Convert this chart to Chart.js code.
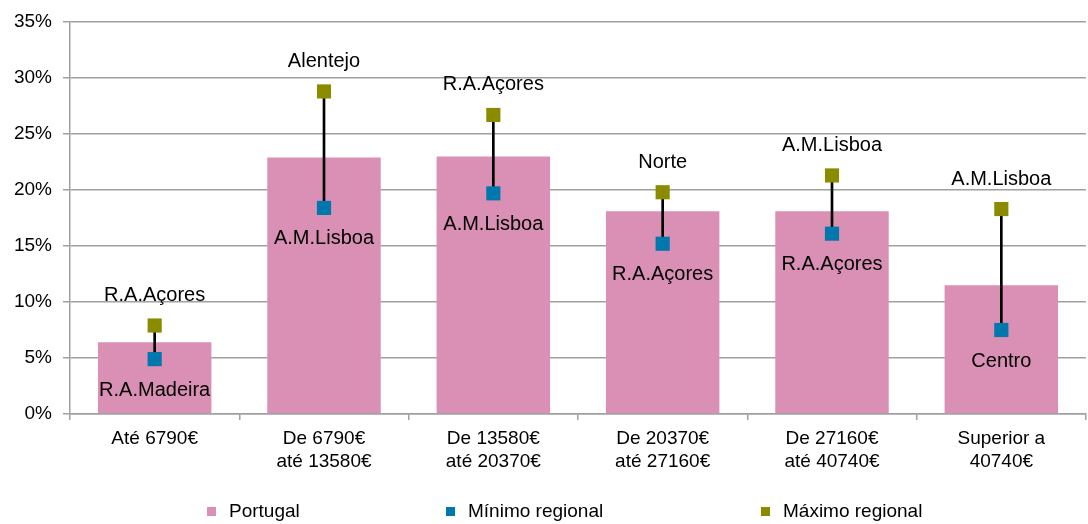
<!DOCTYPE html>
<html>
<head>
<meta charset="utf-8">
<script src="https://cdn.jsdelivr.net/npm/chart.js@4"></script>
<style>
  body { margin: 0; background: #fff; font-family: "Liberation Sans", Arial, sans-serif; }
  #wrap { position: relative; width: 1088px; height: 524px; }
  #legend { position: absolute; left: 0; top: 499px; width: 1088px; height: 24px; font-size: 19px; color: #000; }
  #legend .item { position: absolute; top: 0; line-height: 24px; white-space: nowrap; }
  #legend .box { display: inline-block; width: 9px; height: 9px; margin-right: 13px; vertical-align: 1px; }
</style>
</head>
<body>
<div id="wrap">
  <canvas id="chart"></canvas>
  <div id="legend"></div>
</div>
<script>
const categories = [
  'Até 6790€',
  ['De 6790€', 'até 13580€'],
  ['De 13580€', 'até 20370€'],
  ['De 20370€', 'até 27160€'],
  ['De 27160€', 'até 40740€'],
  ['Superior a', '40740€']
];
const portugal = [6.4, 22.9, 23.0, 18.1, 18.1, 11.5];
const minRegional = [4.9, 18.4, 19.7, 15.2, 16.1, 7.5];
const maxRegional = [7.9, 28.8, 26.7, 19.8, 21.3, 18.3];
const minRegion = ['R.A.Madeira', 'A.M.Lisboa', 'A.M.Lisboa', 'R.A.Açores', 'R.A.Açores', 'Centro'];
const maxRegion = ['R.A.Açores', 'Alentejo', 'R.A.Açores', 'Norte', 'A.M.Lisboa', 'A.M.Lisboa'];
const yTicks = [0, 5, 10, 15, 20, 25, 30, 35];

const PINK = '#da8fb4';
const BLUE = '#0078ae';
const OLIVE = '#8b8b00';
const GRID = '#a0a0a0';
const FONT = '"Liberation Sans", Arial, sans-serif';

// writes the region names above the max and under the min markers
const regionLabels = {
  id: 'regionLabels',
  afterDatasetsDraw(chart) {
    const ctx = chart.ctx;
    ctx.save();
    ctx.font = '20px ' + FONT;
    ctx.fillStyle = '#000';
    ctx.textAlign = 'center';
    ctx.textBaseline = 'middle';
    chart.getDatasetMeta(1).data.forEach((pt, i) => {
      ctx.fillText(minRegion[i], pt.x, pt.y + 31);
    });
    chart.getDatasetMeta(2).data.forEach((pt, i) => {
      ctx.fillText(maxRegion[i], pt.x, pt.y - 30);
    });
    ctx.restore();
  }
};

const chart = new Chart(document.getElementById('chart'), {
  type: 'bar',
  data: {
    labels: categories,
    datasets: [
      {
        label: 'Portugal',
        data: portugal,
        backgroundColor: PINK,
        grouped: false,
        categoryPercentage: 1,
        barPercentage: 0.67,
        order: 4
      },
      {
        type: 'line',
        label: 'Mínimo regional',
        data: minRegional,
        showLine: false,
        pointStyle: 'rect',
        pointRadius: 10,
        pointHoverRadius: 10,
        pointBorderWidth: 0,
        backgroundColor: BLUE,
        borderColor: BLUE,
        order: 1
      },
      {
        type: 'line',
        label: 'Máximo regional',
        data: maxRegional,
        showLine: false,
        pointStyle: 'rect',
        pointRadius: 10,
        pointHoverRadius: 10,
        pointBorderWidth: 0,
        backgroundColor: OLIVE,
        borderColor: OLIVE,
        order: 2
      },
      {
        label: '',
        data: minRegional.map((v, i) => [v, maxRegional[i]]),
        backgroundColor: '#000',
        grouped: false,
        barThickness: 2,
        order: 3
      }
    ]
  },
  options: {
    responsive: true,
    maintainAspectRatio: false,
    animation: false,
    layout: { autoPadding: false, padding: { top: 22, right: 2, bottom: 0, left: 0 } },
    plugins: {
      legend: { display: false },
      tooltip: { enabled: false }
    },
    scales: {
      x: {
        afterFit: s => {
          s.height = 110;
          s.paddingLeft = 0;
          s.paddingRight = 0;
        },
        grid: {
          offset: true,
          drawOnChartArea: false,
          drawTicks: true,
          tickLength: 6,
          color: GRID,
          lineWidth: 1.5
        },
        border: { color: GRID, width: 1.5 },
        ticks: {
          color: '#000',
          padding: 7,
          maxRotation: 0,
          autoSkip: false,
          font: { family: FONT, size: 19, lineHeight: 1.22 }
        }
      },
      y: {
        min: 0,
        max: 35,
        afterFit: s => {
          s.width = 70;
          s.paddingTop = 0;
          s.paddingBottom = 0;
        },
        afterBuildTicks: s => { s.ticks = yTicks.map(v => ({ value: v })); },
        grid: { color: GRID, lineWidth: 1.5, tickLength: 7 },
        border: { color: GRID, width: 1.5 },
        ticks: {
          color: '#000',
          padding: 11,
          callback: v => v + '%',
          font: { family: FONT, size: 19 }
        }
      }
    }
  },
  plugins: [regionLabels]
});

// legend laid out like the spreadsheet one, built from the datasets
const legendLefts = [207, 446, 761];
const legendEl = document.getElementById('legend');
chart.data.datasets.filter(d => d.label).forEach((d, i) => {
  const item = document.createElement('span');
  item.className = 'item';
  item.style.left = legendLefts[i] + 'px';
  item.innerHTML = `<span class="box" style="background:${d.backgroundColor}"></span>${d.label}`;
  legendEl.appendChild(item);
});
</script>
</body>
</html>
